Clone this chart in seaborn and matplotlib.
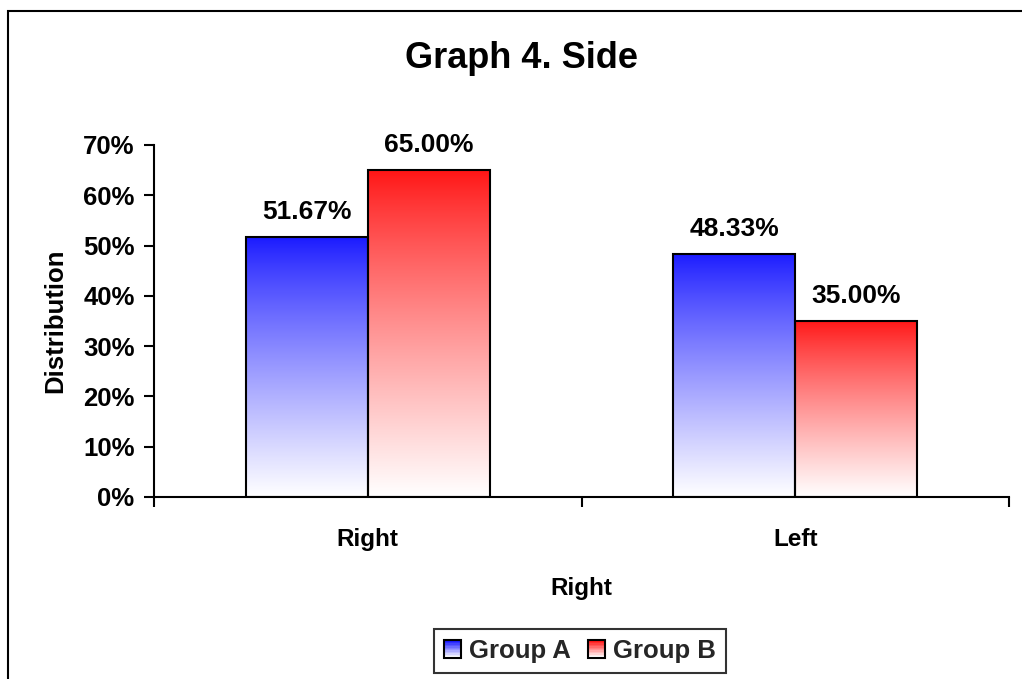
import numpy as np
import pandas as pd
import matplotlib
matplotlib.use("Agg")
import matplotlib.pyplot as plt
from matplotlib.patches import Rectangle, Patch
from matplotlib.legend_handler import HandlerBase
from matplotlib.ticker import FixedLocator, FuncFormatter
import seaborn as sns

# ---- data ----
sides = ["Right", "Left"]
groups = ["Group A", "Group B"]
group_a = [51.67, 48.33]
group_b = [65.00, 35.00]
y_ticks = [0, 10, 20, 30, 40, 50, 60, 70]

top_colors = {"Group A": (0.10, 0.10, 1.00), "Group B": (1.00, 0.08, 0.08)}

df = pd.DataFrame({
    "side": sides * 2,
    "group": [groups[0]] * 2 + [groups[1]] * 2,
    "value": group_a + group_b,
})

sns.set_theme(style="white")
plt.rcParams["font.family"] = ["Liberation Sans", "DejaVu Sans"]
plt.rcParams["font.weight"] = "bold"

fig = plt.figure(figsize=(10.22, 6.79), dpi=100)
ax = fig.add_axes([154 / 1022, 1 - 497 / 679, (1009 - 154) / 1022, (497 - 145) / 679])

sns.barplot(data=df, x="side", y="value", hue="group", order=sides,
            hue_order=groups, palette=top_colors, width=0.57,
            saturation=1, edgecolor="black", linewidth=1.5, legend=False, ax=ax)


def gradient_image(color, n=256):
    t = np.linspace(0, 1, n)[:, None]  # 0 at top, 1 at bottom
    c = np.array(color)
    w = np.array([1.0, 1.0, 1.0])
    mix = t ** 0.85
    rgb = c[None, :] * (1 - mix) + w[None, :] * mix
    return rgb[:, None, :]


# vertical fade from the group colour at the top of each bar to white at its base
for container, g in zip(ax.containers, groups):
    for bar in container:
        x0, y0 = bar.get_x(), bar.get_y()
        w, h = bar.get_width(), bar.get_height()
        im = ax.imshow(gradient_image(top_colors[g]), extent=[x0, x0 + w, y0, y0 + h],
                       origin="upper", aspect="auto", zorder=bar.get_zorder() - 0.1,
                       interpolation="bilinear")
        im.set_clip_path(bar)
        bar.set_facecolor("none")
    vals = [b.get_height() for b in container]
    ax.bar_label(container, labels=[f"{v:.2f}%" for v in vals], padding=9.5,
                 fontsize=19, fontweight="bold", color="black")

ax.set_xlim(-0.5, 1.5)
ax.set_ylim(0, 70)
ax.yaxis.set_major_locator(FixedLocator(y_ticks))
ax.yaxis.set_major_formatter(FuncFormatter(lambda v, p: f"{v:.0f}%"))
ax.xaxis.set_minor_locator(FixedLocator([-0.5, 0.5, 1.5]))

for s in ["top", "right"]:
    ax.spines[s].set_visible(False)
for s in ["left", "bottom"]:
    ax.spines[s].set_color("black")
    ax.spines[s].set_linewidth(1.5)

ax.tick_params(axis="y", which="major", left=True, length=7, width=1.5,
               direction="out", pad=7, labelsize=18.5, colors="black")
ax.tick_params(axis="x", which="major", bottom=False, length=0, pad=22,
               labelsize=17.5, colors="black")
ax.tick_params(axis="x", which="minor", bottom=True, length=7, width=1.5,
               direction="out", color="black")
for lbl in ax.get_xticklabels() + ax.get_yticklabels():
    lbl.set_fontweight("bold")

ax.set_xlabel("Right", fontsize=17.5, fontweight="bold", color="black")
ax.xaxis.set_label_coords(0.5, -0.226)
ax.xaxis.label.set_va("top")
ax.set_ylabel("Distribution", fontsize=18.5, fontweight="bold", color="black")
ax.yaxis.set_label_coords(-0.116, 0.5)
ax.yaxis.label.set_va("center")

fig.text(521.5 / 1022, 1 - 68 / 679, "Graph 4. Side", ha="center", va="baseline",
         fontsize=26, fontweight="bold", color="black")


class GradientHandler(HandlerBase):
    def create_artists(self, legend, orig_handle, xdescent, ydescent, width,
                       height, fontsize, trans):
        color = orig_handle.get_facecolor()[:3]
        n = 12
        arts = []
        for i in range(n):
            t = i / (n - 1)
            col = tuple(np.array(color) * (1 - t) + t * np.ones(3))
            arts.append(Rectangle((-xdescent, -ydescent + height * (1 - (i + 1) / n)),
                                  width, height / n, facecolor=col, edgecolor="none",
                                  transform=trans))
        arts.append(Rectangle((-xdescent, -ydescent), width, height, facecolor="none",
                              edgecolor="black", linewidth=1.5, transform=trans))
        return arts


handles = [Patch(facecolor=top_colors[g], label=g) for g in groups]
leg = fig.legend(handles=handles, labels=groups, loc="center",
                 bbox_to_anchor=(580 / 1022, 1 - 651 / 679), ncol=2,
                 handler_map={Patch: GradientHandler()}, prop={"size": 18.5, "weight": "bold"},
                 handlelength=0.65, handleheight=0.65, handletextpad=0.3,
                 columnspacing=0.7, borderpad=0.4, frameon=True, fancybox=False)
leg.get_frame().set_edgecolor("black")
leg.get_frame().set_linewidth(1.5)

# outer chart frame
fig.patches.append(Rectangle((8 / 1022, -0.1), 1.2, (1 - 11 / 679) + 0.1,
                             transform=fig.transFigure, fill=False,
                             edgecolor="black", linewidth=1.5))

fig.savefig("out.png", dpi=100, facecolor="white")
